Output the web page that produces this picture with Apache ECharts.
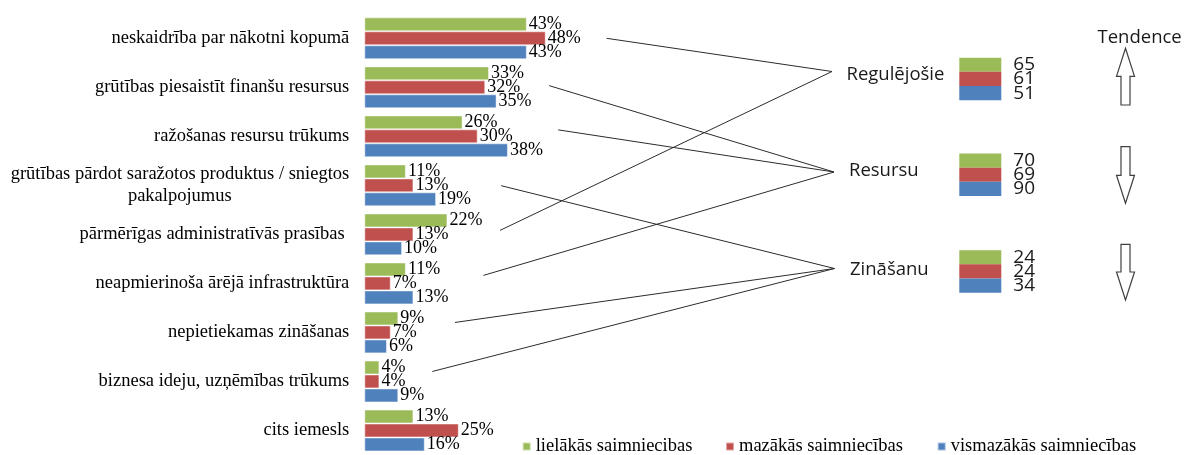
<!DOCTYPE html>
<html><head><meta charset="utf-8">
<script src="https://cdn.jsdelivr.net/npm/echarts@6/dist/echarts.min.js"></script>
<style>html,body{margin:0;padding:0;background:#fff}#c{width:1184px;height:455px}</style>
</head><body><div id="c"></div>
<script>
// ---- data ----
const categories = [
  'neskaidrība par nākotni kopumā',
  'grūtības piesaistīt finanšu resursus',
  'ražošanas resursu trūkums',
  'grūtības pārdot saražotos produktus / sniegtos\npakalpojumus',
  'pārmērīgas administratīvās prasības ',
  'neapmierinoša ārējā infrastruktūra',
  'nepietiekamas zināšanas',
  'biznesa ideju, uzņēmības trūkums',
  'cits iemesls'
];
const seriesNames = ['lielākās saimniecibas', 'mazākās saimniecības', 'vismazākās saimniecības'];
const lielakas   = [43, 33, 26, 11, 22, 11, 9, 4, 13];
const mazakas    = [48, 32, 30, 13, 13, 7, 7, 4, 25];
const vismazakas = [43, 35, 38, 19, 10, 13, 6, 9, 16];
const groupNames  = ['Regulējošie', 'Resursu', 'Zināšanu'];
const groupScores = [[65, 61, 51], [70, 69, 90], [24, 24, 34]];
const groupTrend  = ['up', 'down', 'down'];
const trendTitle  = 'Tendence';
const categoryGroup = [0, 1, 1, 2, 0, 1, 2, 2, null];

// ---- layout / style ----
const colors = ['#9BBB59', '#C0504D', '#4F81BD'];
const serif = 'Liberation Serif';
const sans = 'Open Sans';
const boxTops = [57.7, 153.5, 250.2];
const boxLeft = 959.3, boxW = 42, boxH = 42.5;
const hubPos = [[832, 71.5], [834, 172], [834.5, 268.5]];
const groupTextPos = [[846.5, 75.2], [849, 170.8], [850, 269.3]];
// connector start: [x value in % on main axis, vertical pixel shift]
const linkStart = [[64.1, 0], [48.9, -1.7], [51.3, -6.5], [36.2, 0.3], [35.9, -4], [31.5, -8], [24, -10], [18, -10]];
const arrows = [[48.3, 105], [146.7, 203.3], [244.3, 300]];
const legendLeft = [521.7, 725, 936.7];

// measure first line of two-line label for centred 2nd line
const mctx = document.createElement('canvas').getContext('2d');
mctx.font = '18.5px "' + serif + '"';

function labelFormatter(v) {
  const parts = v.split('\n');
  if (parts.length < 2) return v;
  const w = Math.ceil(mctx.measureText(parts[0]).width);
  return parts[0] + '\n{c' + '|' + parts[1] + '}';
}
const firstLineW = Math.ceil(mctx.measureText(categories[3].split('\n')[0]).width);

const chart = echarts.init(document.getElementById('c'), null, {renderer: 'canvas'});

const grids = [{left: 364.3, top: 13.8, width: 378, height: 442}];
const xAxes = [{type: 'value', min: 0, max: 100, show: false, gridIndex: 0}];
const yAxes = [{
  type: 'category', data: categories, inverse: true, gridIndex: 0,
  axisLine: {show: false}, axisTick: {show: false}, splitLine: {show: false},
  axisLabel: {
    fontFamily: serif, fontSize: 18.5, color: '#000', margin: 15, lineHeight: 22,
    formatter: labelFormatter,
    rich: {c: {fontFamily: serif, fontSize: 18.5, color: '#000', width: firstLineW, align: 'center', lineHeight: 22}}
  }
}];

const series = [lielakas, mazakas, vismazakas].map((d, i) => ({
  type: 'bar', name: seriesNames[i], data: d, xAxisIndex: 0, yAxisIndex: 0,
  barGap: '0%', barCategoryGap: '14.5%',
  itemStyle: {color: colors[i], borderColor: 'rgba(255,255,255,0.5)', borderWidth: 1},
  label: {show: true, position: 'right', distance: 2, formatter: '{c}%',
    fontFamily: serif, fontSize: 18, color: '#000'},
  silent: true
}));

groupScores.forEach((sc, g) => {
  grids.push({left: boxLeft, top: boxTops[g], width: boxW, height: boxH});
  xAxes.push({type: 'value', min: 0, max: 1, show: false, gridIndex: g + 1});
  yAxes.push({type: 'category', data: ['a', 'b', 'c'], inverse: true, show: false, gridIndex: g + 1});
  series.push({
    type: 'bar', xAxisIndex: g + 1, yAxisIndex: g + 1, barCategoryGap: '0%', silent: true,
    data: sc.map((s, i) => ({value: 1, score: s, itemStyle: {color: colors[i]}})),
    label: {show: true, position: 'right', distance: 12, formatter: p => String(p.data.score),
      fontFamily: sans, fontSize: 19, color: '#1a1a1a'}
  });
});

const legends = seriesNames.map((n, i) => ({
  data: [{name: n, icon: 'rect'}], left: legendLeft[i], top: 437, padding: 0,
  itemWidth: 8, itemHeight: 8, selectedMode: false,
  textStyle: {fontFamily: serif, fontSize: 18.5, color: '#000'}
}));

chart.setOption({
  animation: false,
  grid: grids, xAxis: xAxes, yAxis: yAxes, series: series, legend: legends
});

// ---- annotations ----
const graphics = [];
categoryGroup.forEach((g, c) => {
  if (g === null) return;
  const p = chart.convertToPixel({gridIndex: 0}, [linkStart[c][0], categories[c]]);
  graphics.push({type: 'line', silent: true,
    shape: {x1: p[0], y1: p[1] + linkStart[c][1], x2: hubPos[g][0], y2: hubPos[g][1]},
    style: {stroke: '#2b2b2b', lineWidth: 1}});
});
groupNames.forEach((n, g) => {
  graphics.push({type: 'text', silent: true, x: groupTextPos[g][0], y: groupTextPos[g][1],
    style: {text: n, font: '18.5px "' + sans + '"', fill: '#1a1a1a', verticalAlign: 'middle', align: 'left'}});
});
graphics.push({type: 'text', silent: true, x: 1097.5, y: 37.5,
  style: {text: trendTitle, font: '18.5px "' + sans + '"', fill: '#1a1a1a', verticalAlign: 'middle', align: 'left'}});
const cx = 1125.5, hh = 9, hs = 4.5, hl = 28;
groupTrend.forEach((t, g) => {
  const [top, bot] = arrows[g];
  let pts;
  if (t === 'up') {
    pts = [[cx, top], [cx + hh, top + hl], [cx + hs, top + hl], [cx + hs, bot], [cx - hs, bot], [cx - hs, top + hl], [cx - hh, top + hl]];
  } else {
    pts = [[cx - hs, top], [cx + hs, top], [cx + hs, bot - hl], [cx + hh, bot - hl], [cx, bot], [cx - hh, bot - hl], [cx - hs, bot - hl]];
  }
  graphics.push({type: 'polygon', silent: true, shape: {points: pts},
    style: {fill: '#fff', stroke: '#404040', lineWidth: 1.2}});
});
chart.setOption({graphic: graphics});
</script>
</body></html>
